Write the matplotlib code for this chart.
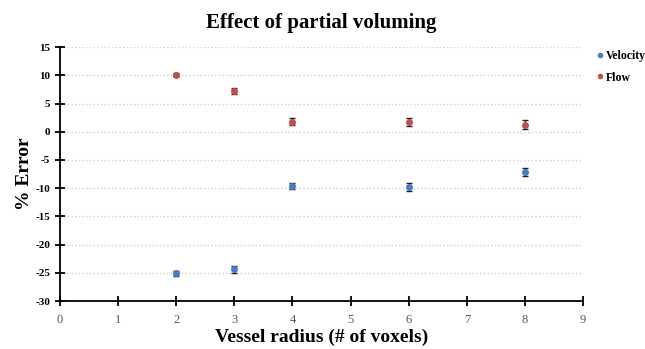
import matplotlib.pyplot as plt
from matplotlib.lines import Line2D

# data
radius = [2, 3, 4, 6, 8]
velocity = [-25.1, -24.4, -9.6, -9.8, -7.2]
velocity_err = [0.5, 0.6, 0.6, 0.7, 0.7]
flow = [10.1, 7.2, 1.8, 1.8, 1.2]
flow_err = [0.3, 0.5, 0.6, 0.7, 0.8]

plt.rcParams['font.family'] = ['Liberation Serif', 'DejaVu Serif']
plt.rcParams['axes.unicode_minus'] = False

blue = '#4a7cc4'
red = '#c0504d'

fig = plt.figure(figsize=(6.45, 3.49), dpi=100)
ax = fig.add_axes([0.093, 0.1375, 0.811, 0.7275])

ax.errorbar(radius, velocity, yerr=velocity_err, fmt='o', color=blue, ms=4,
            ecolor='#222222', elinewidth=1, capsize=2, zorder=3)
ax.errorbar(radius, flow, yerr=flow_err, fmt='o', color=red, ms=4,
            ecolor='#222222', elinewidth=1, capsize=2, zorder=3)

ax.set_xlim(0, 9)
ax.set_ylim(-30, 15)
ax.set_xticks(range(0, 10))
ax.set_yticks(range(-30, 16, 5))
ax.yaxis.grid(True, linestyle=':', color='#d0d0d0', linewidth=1)
ax.set_axisbelow(True)

for s in ['top', 'right']:
    ax.spines[s].set_visible(False)
for s in ['left', 'bottom']:
    ax.spines[s].set_linewidth(1.3)
ax.tick_params(axis='both', direction='inout', length=7, width=1.3)
ax.tick_params(axis='y', labelsize=8)
ax.tick_params(axis='x', labelsize=9, labelcolor='#555555', pad=6)
for lbl in ax.get_yticklabels():
    lbl.set_fontweight('bold')

ax.set_xlabel('Vessel radius (# of voxels)', fontsize=14, fontweight='bold', labelpad=2)
ax.set_ylabel('% Error', fontsize=14, fontweight='bold', labelpad=2)
ax.set_title('Effect of partial voluming', fontsize=15, fontweight='bold', pad=14)

handles = [Line2D([], [], marker='o', ls='', color=blue, ms=3),
           Line2D([], [], marker='o', ls='', color=red, ms=3)]
ax.legend(handles, ['Velocity', 'Flow'], loc='upper left', bbox_to_anchor=(1.0, 1.03),
          frameon=False, prop={'weight': 'bold', 'size': 8.5}, handletextpad=0.0,
          handlelength=1, labelspacing=0.8)

fig.savefig('out.png', dpi=100)
